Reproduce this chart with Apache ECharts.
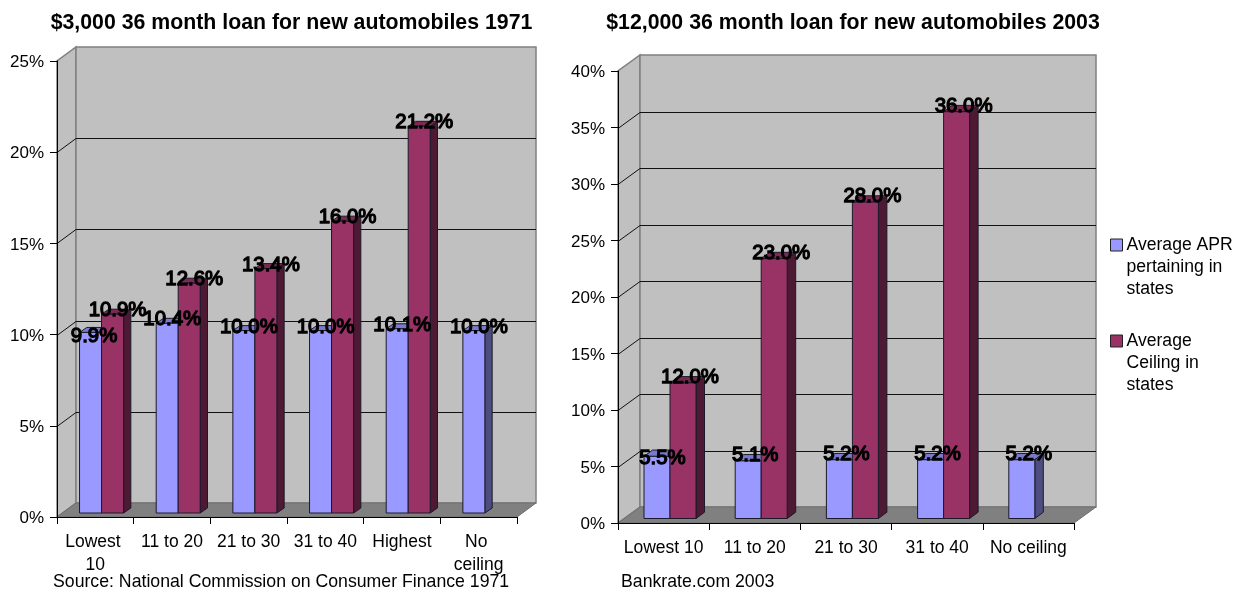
<!DOCTYPE html>
<html><head><meta charset="utf-8">
<style>html,body{margin:0;padding:0;background:#fff}#c{width:1247px;height:589px}</style>
<script src="https://cdn.jsdelivr.net/npm/echarts@6/dist/echarts.min.js"></script>
</head><body><div id="c"></div>
<script>
const categories1971 = ['Lowest 10','11 to 20','21 to 30','31 to 40','Highest','No ceiling'];
const apr1971 = [9.9,10.4,10.0,10.0,10.1,10.0];
const ceiling1971 = [10.9,12.6,13.4,16.0,21.2,null];
const ticks1971 = [0,5,10,15,20,25];
const categories2003 = ['Lowest 10','11 to 20','21 to 30','31 to 40','No ceiling'];
const apr2003 = [5.5,5.1,5.2,5.2,5.2];
const ceiling2003 = [12.0,23.0,28.0,36.0,null];
const ticks2003 = [0,5,10,15,20,25,30,35,40];
const aprName = 'Average APR\npertaining in\nstates';
const ceilingName = 'Average\nCeiling in\nstates';
const FONT = '"Liberation Sans", Arial, sans-serif';
const APR = {front:'#9999ff', top:'#7a7acc', side:'#4d4d80'};
const CEIL = {front:'#993366', top:'#7a2952', side:'#4d1933'};
const EDGE = '#1a1a2a';

function poly(pts, fill, stroke, lw){
  return {type:'polygon', shape:{points:pts}, style:{fill:fill, stroke:stroke||null, lineWidth:lw||1}, silent:true};
}
function wallSeries(idx, wd, wh){
  return {type:'custom', xAxisIndex:idx, yAxisIndex:idx, z:1, silent:true, data:[0], tooltip:{show:false},
    encode:{x:-1,y:-1},
    renderItem:function(p, api){
      const g=p.coordSys, L=g.x, R=g.x+g.width, T=g.y, B=g.y+g.height;
      return {type:'group', children:[
        poly([[L,B],[L+wd,B-wh],[L+wd,T-wh],[L,T]],'#c0c0c0','#808080',1.5),
        poly([[L+wd,B-wh],[R+wd,B-wh],[R+wd,T-wh],[L+wd,T-wh]],'#c0c0c0','#808080',1.5),
        poly([[L,B],[R,B],[R+wd,B-wh],[L+wd,B-wh]],'#808080','#6e6e6e',1)
      ]};
    }};
}
function gridSeries(idx, ticks, wd, wh){
  return {type:'custom', xAxisIndex:idx, yAxisIndex:idx, z:2, silent:true, tooltip:{show:false},
    data:ticks.slice(1,-1).map((t,i)=>[i,t]), encode:{x:-1,y:1},
    renderItem:function(p, api){
      const g=p.coordSys, L=g.x, R=g.x+g.width;
      const y=Math.round(api.coord([0,api.value(1)])[1])+0.5;
      return {type:'polyline', shape:{points:[[L,y],[L+wd,y-wh],[R+wd,y-wh]]},
        style:{fill:null, stroke:'#111', lineWidth:1}, silent:true};
    }};
}
function barSeries(idx, name, values, which, col, o){
  return {type:'custom', name:name, xAxisIndex:idx, yAxisIndex:idx, z:4, silent:true,
    itemStyle:{color:col.front},
    data:values.map((v,i)=>[i,v]), encode:{x:0,y:1},
    renderItem:function(p, api){
      if(api.value(1)==null || isNaN(api.value(1))) return null;
      const c=api.coord([api.value(0),api.value(1)]), z=api.coord([api.value(0),0]);
      const x0=c[0]+o.shift+(which===0?-o.w:0), x1=x0+o.w;
      const yT=c[1]-o.lift, yB=z[1]-o.lift, dx=o.dx, dy=o.dy;
      const first=(which===0 && api.value(0)===0);
      return {type:'group', children:[
        poly([[x0,yT],[x1,yT],[x1+dx,yT-dy],[x0+dx,yT-dy]],col.top,EDGE,1),
        poly([[x1,yT],[x1+dx,yT-dy],[x1+dx,yB-dy],[x1,yB]],col.side,EDGE,1),
        poly([[x0,yT],[x1,yT],[x1,yB],[x0,yB]],col.front,EDGE,1),
        {type:'text', z2:100, silent:true, style:{
          text:api.value(1).toFixed(1)+'%', x:x0+o.w/2+o.lx-(first?1.5:0), y:yT+o.ly+(first?o.firstNudge:0),
          align:'center', verticalAlign:'middle',
          font:'400 '+o.fs+'px '+FONT, fill:'#000', stroke:'#000', lineWidth:1.3}}
      ]};
    }};
}
function xAxis(idx, cats, gi, w){
  return {type:'category', gridIndex:gi, data:cats, z:3, boundaryGap:true,
    axisLine:{show:true,lineStyle:{color:'#000',width:1}},
    axisTick:{show:true,length:7,alignWithLabel:false,interval:0,lineStyle:{color:'#000'}},
    axisLabel:{interval:0,color:'#000',fontFamily:FONT,fontSize:17.5,margin:14,lineHeight:23,
      width:w,overflow:'break',hideOverlap:false},
    splitLine:{show:false}};
}
function yAxis(gi, max){
  return {type:'value', gridIndex:gi, min:0, max:max, interval:5, z:3,
    axisLine:{show:true,lineStyle:{color:'#000',width:1}},
    axisTick:{show:true,length:7,lineStyle:{color:'#000'}},
    axisLabel:{color:'#000',fontFamily:FONT,fontSize:17,margin:13,verticalAlign:'top',lineHeight:3,formatter:'{value}%'},
    splitLine:{show:false}};
}
const o1={w:22,shift:6.2,lift:4,dx:7.3,dy:5,lx:5,ly:-3.5,fs:20.4,firstNudge:7};
const o2={w:26,shift:6.4,lift:4.5,dx:8.5,dy:6.3,lx:7,ly:-5.5,fs:20.4,firstNudge:7.5};
const chart=echarts.init(document.getElementById('c'),null,{renderer:'canvas'});
chart.setOption({
  animation:false, backgroundColor:'#fff',
  title:[
    {text:'$3,000 36 month loan for new automobiles 1971',left:286.5,top:8,textAlign:'center',
     textStyle:{fontFamily:FONT,fontSize:21.3,fontWeight:'bold',color:'#000'}},
    {text:'$12,000 36 month loan for new automobiles 2003',left:848,top:8,textAlign:'center',
     textStyle:{fontFamily:FONT,fontSize:21.3,fontWeight:'bold',color:'#000'}},
    {text:'Source: National Commission on Consumer Finance 1971',left:48,top:568,
     textStyle:{fontFamily:FONT,fontSize:17.7,fontWeight:'normal',color:'#000'}},
    {text:'Bankrate.com 2003',left:616,top:568,
     textStyle:{fontFamily:FONT,fontSize:17.7,fontWeight:'normal',color:'#000'}}
  ],
  legend:{orient:'vertical',left:1105,top:185,icon:'rect',itemWidth:12,itemHeight:12,itemGap:-14,
    selectedMode:false,data:[aprName,ceilingName],
    formatter:function(n){return '\n\n'+n;},
    itemStyle:{borderColor:'#222',borderWidth:1},
    textStyle:{fontFamily:FONT,fontSize:17.6,lineHeight:22,color:'#000',padding:[0,0,0,-1]}},
  grid:[{left:57,top:61,width:460,height:456},{left:618,top:71,width:456,height:452}],
  xAxis:[xAxis(0,categories1971,0,75),xAxis(1,categories2003,1,90)],
  yAxis:[yAxis(0,25),yAxis(1,40)],
  series:[
    wallSeries(0,19,14),gridSeries(0,ticks1971,19,14),
    barSeries(0,aprName,apr1971,0,APR,o1),barSeries(0,ceilingName,ceiling1971,1,CEIL,o1),
    wallSeries(1,22,16),gridSeries(1,ticks2003,22,16),
    barSeries(1,aprName,apr2003,0,APR,o2),barSeries(1,ceilingName,ceiling2003,1,CEIL,o2)
  ]
});
</script></body></html>
